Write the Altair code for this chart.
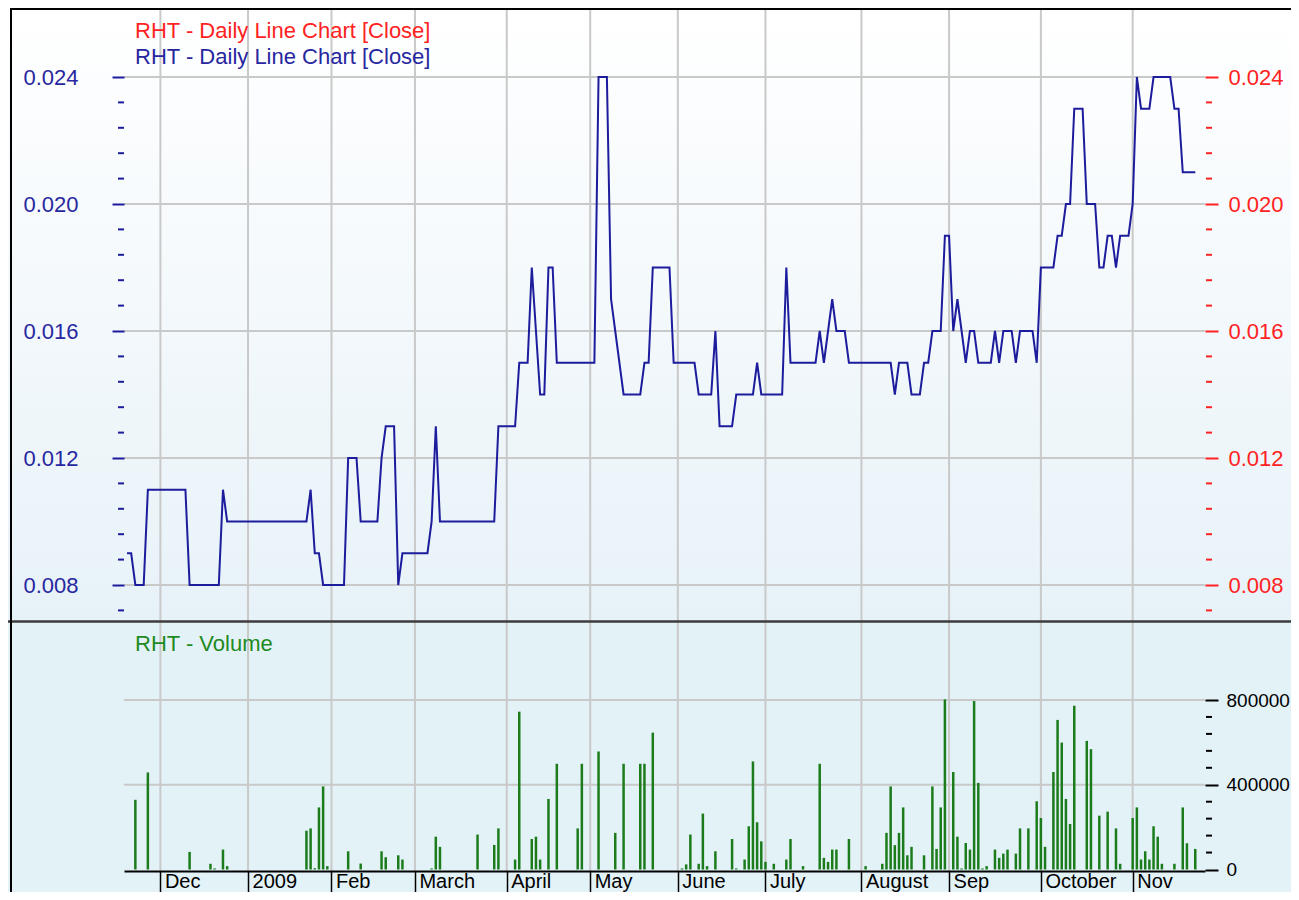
import altair as alt
import pandas as pd

# ---------------- data ----------------
title_close = "RHT - Daily Line Chart [Close]"
title_volume = "RHT - Volume"
month_names = ["Dec", "2009", "Feb", "March", "April", "May", "June",
               "July", "August", "Sep", "October", "Nov"]

# daily closes, one list per month (trading days)
close_nov08 = [0.009, 0.009, 0.008, 0.008, 0.008, 0.011, 0.011, 0.011]
close_dec08 = [0.011, 0.011, 0.011, 0.011, 0.011, 0.011, 0.011,
               0.008, 0.008, 0.008, 0.008, 0.008, 0.008, 0.008, 0.008,
               0.011, 0.010, 0.010, 0.010, 0.010, 0.010]
close_jan09 = [0.010, 0.010, 0.010, 0.010, 0.010, 0.010, 0.010, 0.010,
               0.010, 0.010, 0.010, 0.010, 0.010, 0.010, 0.010,
               0.011, 0.009, 0.009, 0.008, 0.008]
close_feb09 = [0.008, 0.008, 0.008, 0.008, 0.012, 0.012, 0.012,
               0.010, 0.010, 0.010, 0.010, 0.010, 0.012,
               0.013, 0.013, 0.013, 0.008, 0.009, 0.009, 0.009]
close_mar09 = [0.009, 0.009, 0.009, 0.009, 0.010, 0.013,
               0.010, 0.010, 0.010, 0.010, 0.010, 0.010, 0.010,
               0.010, 0.010, 0.010, 0.010, 0.010, 0.010, 0.010,
               0.013, 0.013]
close_apr09 = [0.013, 0.013, 0.013, 0.015, 0.015, 0.015, 0.018, 0.016,
               0.014, 0.014, 0.018, 0.018,
               0.015, 0.015, 0.015, 0.015, 0.015, 0.015, 0.015, 0.015]
close_may09 = [0.015, 0.015, 0.024, 0.024, 0.024, 0.017, 0.016, 0.015,
               0.014, 0.014, 0.014, 0.014, 0.014, 0.015, 0.015,
               0.018, 0.018, 0.018, 0.018, 0.018, 0.015]
close_jun09 = [0.015, 0.015, 0.015, 0.015, 0.015, 0.014, 0.014, 0.014,
               0.014, 0.016, 0.013, 0.013, 0.013, 0.013,
               0.014, 0.014, 0.014, 0.014, 0.014, 0.015, 0.014]
close_jul09 = [0.014, 0.014, 0.014, 0.014, 0.014, 0.018,
               0.015, 0.015, 0.015, 0.015, 0.015, 0.015, 0.015,
               0.016, 0.015, 0.016, 0.017, 0.016, 0.016, 0.016,
               0.015, 0.015, 0.015]
close_aug09 = [0.015, 0.015, 0.015, 0.015, 0.015, 0.015, 0.015, 0.015,
               0.014, 0.015, 0.015, 0.015, 0.014, 0.014, 0.014,
               0.015, 0.015, 0.016, 0.016, 0.016, 0.019]
close_sep09 = [0.019, 0.016, 0.017, 0.016, 0.015, 0.016, 0.016,
               0.015, 0.015, 0.015, 0.015, 0.016, 0.015,
               0.016, 0.016, 0.016, 0.015, 0.016, 0.016, 0.016, 0.016,
               0.015]
close_oct09 = [0.018, 0.018, 0.018, 0.018, 0.019, 0.019, 0.020, 0.020,
               0.023, 0.023, 0.023, 0.020, 0.020, 0.020, 0.018, 0.018,
               0.019, 0.019, 0.018, 0.019, 0.019, 0.019]
close_nov09 = [0.020, 0.024, 0.023, 0.023, 0.023, 0.024, 0.024, 0.024,
               0.024, 0.024, 0.023, 0.023, 0.021, 0.021, 0.021, 0.021]

# daily volume, one list per month
vol_nov08 = [0, 0, 329000, 0, 0, 458000, 0, 0]
vol_dec08 = [0, 0, 0, 0, 0, 0, 0, 83000, 0, 0, 0, 0, 27000, 5000, 0,
             94000, 16000, 0, 0, 0, 0]
vol_jan09 = [0, 0, 0, 0, 0, 0, 0, 0, 0, 0, 0, 0, 0, 0,
             183000, 194000, 6000, 293000, 392000, 16000]
vol_feb09 = [0, 0, 0, 0, 86000, 0, 0, 28000, 0, 0, 0, 0, 86000, 58000,
             0, 0, 67000, 47000, 0, 0]
vol_mar09 = [0, 0, 0, 0, 5000, 155000, 107000, 0, 0, 0, 0, 0, 0, 0, 0,
             165000, 0, 0, 0, 116000, 194000, 0]
vol_apr09 = [0, 0, 47000, 745000, 0, 0, 144000, 155000, 47000, 0,
             333000, 0, 499000, 0, 0, 0, 0, 194000, 499000, 0]
vol_may09 = [0, 0, 557000, 0, 0, 0, 173000, 0, 499000, 0, 0, 0,
             499000, 499000, 0, 646000, 0, 0, 0, 0, 0]
vol_jun09 = [0, 5000, 24000, 165000, 0, 27000, 264000, 16000, 0, 86000,
             0, 0, 0, 144000, 5000, 0, 47000, 204000, 510000, 223000,
             133000]
vol_jul09 = [36000, 0, 27000, 0, 0, 47000, 144000, 0, 0, 16000, 0, 0, 0,
             499000, 55000, 36000, 94000, 94000, 0, 0, 144000, 0, 0]
vol_aug09 = [0, 16000, 0, 0, 0, 27000, 173000, 392000, 115000, 173000,
             293000, 67000, 107000, 0, 0, 67000, 0, 392000, 97000,
             293000, 803000]
vol_sep09 = [0, 460000, 155000, 5000, 125000, 94000, 795000, 409000,
             5000, 16000, 0, 94000, 55000, 75000, 94000, 0, 75000,
             194000, 0, 194000, 0, 322000]
vol_oct09 = [243000, 107000, 0, 460000, 706000, 599000, 333000, 215000,
             773000, 0, 0, 607000, 568000, 0, 254000, 0, 273000, 0,
             194000, 27000, 0, 0]
vol_nov09 = [243000, 293000, 47000, 86000, 47000, 204000, 155000, 27000,
             0, 0, 27000, 0, 293000, 124000, 0, 97000]

price_major = [0.008, 0.012, 0.016, 0.020, 0.024]
price_minor = [0.0072, 0.0088, 0.0096, 0.0104, 0.0112, 0.0128, 0.0136,
               0.0144, 0.0152, 0.0168, 0.0176, 0.0184, 0.0192, 0.0208,
               0.0216, 0.0224, 0.0232]
vol_major = [0, 400000, 800000]
vol_minor = [80000, 160000, 240000, 320000, 480000, 560000, 640000, 720000]

# ---------------- tables ----------------
close_months = [close_nov08, close_dec08, close_jan09, close_feb09, close_mar09,
                close_apr09, close_may09, close_jun09, close_jul09, close_aug09,
                close_sep09, close_oct09, close_nov09]
vol_months = [vol_nov08, vol_dec08, vol_jan09, vol_feb09, vol_mar09, vol_apr09,
              vol_may09, vol_jun09, vol_jul09, vol_aug09, vol_sep09, vol_oct09,
              vol_nov09]
closes = [v for m in close_months for v in m]
volumes = [v for m in vol_months for v in m]
df = pd.DataFrame({"day": list(range(len(closes))), "close": closes, "volume": volumes})

month_start = []
n = len(close_months[0])
for m in close_months[1:]:
    month_start.append(n)
    n += len(m)
months_df = pd.DataFrame({"day": month_start, "name": month_names})

one = pd.DataFrame({"k": [0]})

# ---------------- geometry / style ----------------
W, H = 1081, 863
PAD_L, PAD_R = 116, 86          # svg width 1283 -> fits the page without shrinking
SVG_H = 884
FONT = "Liberation Sans"
FS = 22
BLUE_LINE = "#1c1c9c"
BLUE_TXT = "#27279f"
RED = "#ff2222"
GREEN_TXT = "#1f8a1f"
GREEN_BAR = "#1c7c1c"
GRID = "#c9c9c9"

xscale = alt.Scale(domain=[-0.72, 258.33], nice=False, zero=False, padding=0)
pscale = alt.Scale(domain=[0.0072, 0.024], range=[602.4, 69], nice=False, zero=False)
vscale = alt.Scale(domain=[0, 800000], range=[861.5, 692], nice=False, zero=False, padding=0)

label_expr = "[" + ",".join("'%s'" % s for s in month_names) + "][indexof([" + \
    ",".join(str(v) for v in month_start) + "], datum.value)]"

x_axis = alt.Axis(values=month_start, labelExpr=label_expr, orient="bottom",
                  tickSize=30, tickColor="black", tickWidth=1.5,
                  domain=True, domainColor="black", domainWidth=2,
                  labelColor="black", labelFont=FONT, labelFontSize=20,
                  labelAlign="left", labelBaseline="alphabetic", labelOffset=4,
                  labelPadding=-13.5, labelOverlap=False, labelFlush=False,
                  grid=False, title=None, zindex=1)
left_axis = alt.Axis(values=price_major, format=".3f", orient="left",
                     labelColor=BLUE_TXT, tickColor=BLUE_LINE, tickSize=12, tickWidth=2,
                     domain=False, grid=False, labelFont=FONT, labelFontSize=FS,
                     labelPadding=34, labelAlign="right", labelBaseline="middle",
                     labelOverlap=False, title=None, zindex=1)
right_axis = alt.Axis(values=price_major, format=".3f", orient="right",
                      labelColor=RED, tickColor=RED, tickSize=13, tickWidth=2,
                      domain=False, grid=False, labelFont=FONT, labelFontSize=FS,
                      labelPadding=10, labelAlign="left", labelBaseline="middle",
                      labelOverlap=False, title=None, zindex=1)
vol_axis = alt.Axis(values=vol_major, format="d", orient="right",
                    labelColor="black", tickColor="black", tickSize=13, tickWidth=2,
                    domain=False, grid=False, labelFont=FONT, labelFontSize=19,
                    labelPadding=8, labelAlign="left", labelBaseline="middle",
                    labelOverlap=False, title=None, zindex=1)


def X():
    return alt.X("day:Q", scale=xscale, axis=x_axis)


# ---------------- layers ----------------
bg_top = alt.Chart(one).mark_rect(
    color=alt.Gradient(gradient="linear",
                       stops=[alt.GradientStop(color="#ffffff", offset=0),
                              alt.GradientStop(color="#e7f2f8", offset=1)],
                       x1=0, x2=0, y1=0, y2=1)
).encode(x=alt.value(-PAD_L), x2=alt.value(W + PAD_R), y=alt.value(0), y2=alt.value(613))

bg_bot = alt.Chart(one).mark_rect(color="#e3f2f7").encode(
    x=alt.value(-PAD_L), x2=alt.value(W + PAD_R), y=alt.value(613), y2=alt.value(SVG_H))

vgrid = alt.Chart(months_df).mark_rule(color=GRID, strokeWidth=2).encode(
    x=X(), y=alt.value(0), y2=alt.value(H))

pgrid = alt.Chart(pd.DataFrame({"v": price_major})).mark_rule(color=GRID, strokeWidth=2).encode(
    y=alt.Y("v:Q", scale=pscale, axis=None), x=alt.value(0), x2=alt.value(W))

vgrid_h = alt.Chart(pd.DataFrame({"v": vol_major[1:]})).mark_rule(color=GRID, strokeWidth=2).encode(
    y=alt.Y("v:Q", scale=vscale, axis=None), x=alt.value(0), x2=alt.value(W))

separator = alt.Chart(one).mark_rule(color="#3c3c3c", strokeWidth=2.5).encode(
    x=alt.value(-PAD_L), x2=alt.value(W + PAD_R), y=alt.value(613.5))
frame_left = alt.Chart(one).mark_rule(color="black", strokeWidth=2).encode(
    x=alt.value(-113), y=alt.value(0), y2=alt.value(SVG_H))
frame_top = alt.Chart(one).mark_rule(color="black", strokeWidth=2).encode(
    x=alt.value(-114), x2=alt.value(W + PAD_R), y=alt.value(1))

minor_left = alt.Chart(pd.DataFrame({"v": price_minor})).mark_rule(color=BLUE_LINE, strokeWidth=2).encode(
    y=alt.Y("v:Q", scale=pscale, axis=None), x=alt.value(-6), x2=alt.value(0))
minor_right = alt.Chart(pd.DataFrame({"v": price_minor})).mark_rule(color=RED, strokeWidth=2).encode(
    y=alt.Y("v:Q", scale=pscale, axis=None), x=alt.value(W + 1), x2=alt.value(W + 7))
minor_vol = alt.Chart(pd.DataFrame({"v": vol_minor})).mark_rule(color="black", strokeWidth=2).encode(
    y=alt.Y("v:Q", scale=vscale, axis=None), x=alt.value(W + 1), x2=alt.value(W + 7))

bars = alt.Chart(df).transform_filter("datum.volume > 0").mark_bar(size=2.5, color=GREEN_BAR).encode(
    x=X(),
    y=alt.Y("volume:Q", scale=vscale, axis=vol_axis),
    y2=alt.datum(0))

line = alt.Chart(df).mark_line(color=BLUE_LINE, strokeWidth=2).encode(
    x=X(),
    y=alt.Y("close:Q", scale=pscale, axis=left_axis))

line_right = alt.Chart(df).mark_line(opacity=0).encode(
    x=X(),
    y=alt.Y("close:Q", scale=pscale, axis=right_axis))

t_red = alt.Chart(pd.DataFrame({"t": [title_close]})).mark_text(
    align="left", baseline="alphabetic", color=RED, font=FONT, fontSize=FS).encode(
    x=alt.value(11), y=alt.value(29.5), text="t:N")
t_blue = alt.Chart(pd.DataFrame({"t": [title_close]})).mark_text(
    align="left", baseline="alphabetic", color=BLUE_TXT, font=FONT, fontSize=FS).encode(
    x=alt.value(11), y=alt.value(55.5), text="t:N")
t_green = alt.Chart(pd.DataFrame({"t": [title_volume]})).mark_text(
    align="left", baseline="alphabetic", color=GREEN_TXT, font=FONT, fontSize=FS).encode(
    x=alt.value(11), y=alt.value(643), text="t:N")

chart = alt.layer(
    bg_top, bg_bot, vgrid, pgrid, vgrid_h, separator, frame_left, frame_top,
    minor_left, minor_right, minor_vol, bars, line, line_right,
    t_red, t_blue, t_green
).resolve_scale(y="independent").properties(
    width=W, height=H,
    padding={"left": PAD_L, "top": 0, "right": PAD_R, "bottom": SVG_H - H},
    autosize=alt.AutoSizeParams(type="none"),
    background="white",
).configure_view(stroke=None)

chart.save("out.html", embed_options={"renderer": "svg", "actions": False})
